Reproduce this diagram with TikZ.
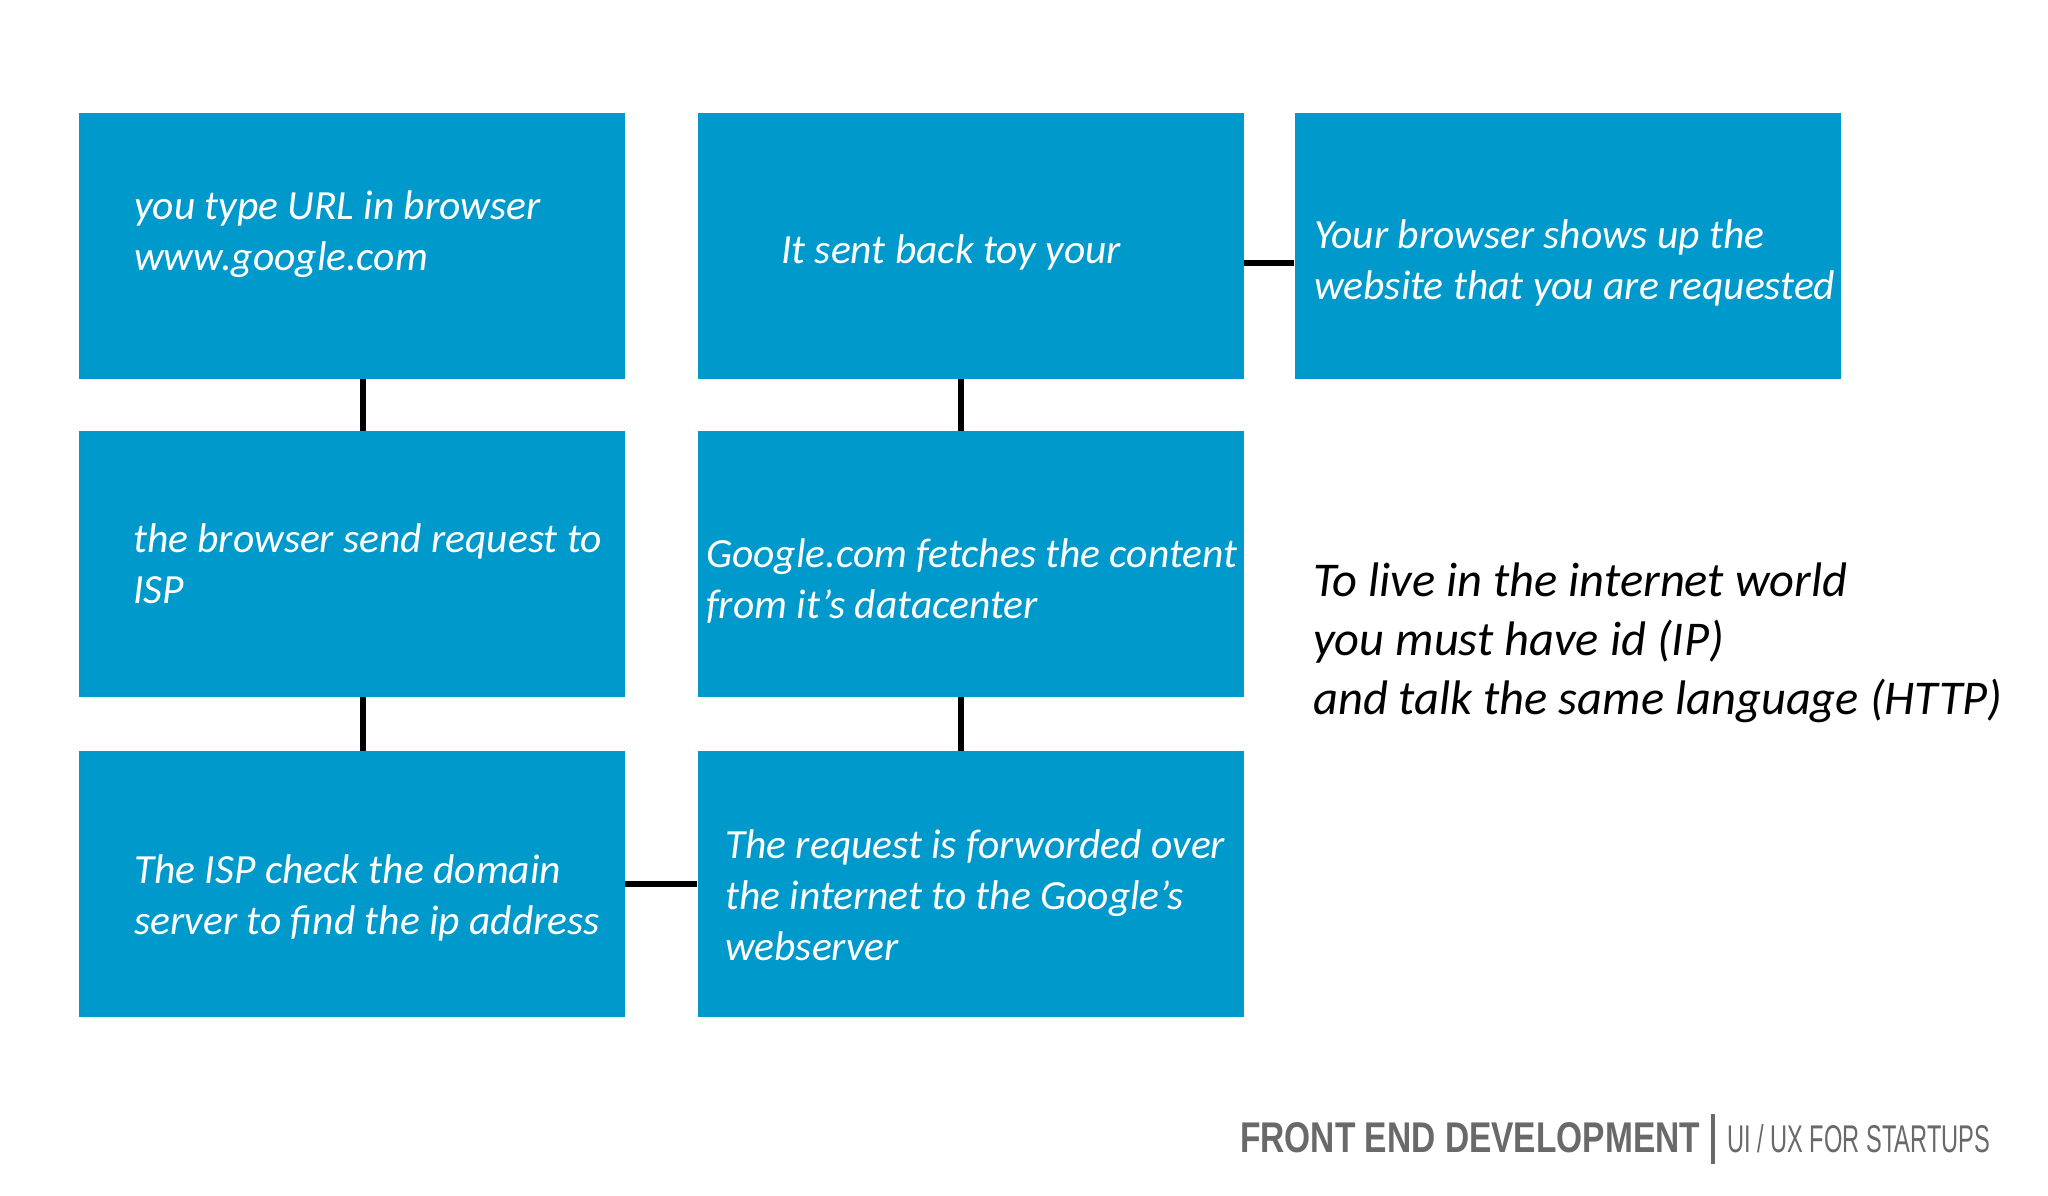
\documentclass[tikz,border=0pt]{standalone}
\usepackage{fontspec}
\setmainfont{Carlito}
\newfontfamily\tagfont{Liberation Sans}
\definecolor{boxblue}{RGB}{0,153,204}
\definecolor{taggray}{RGB}{105,105,105}

\begin{document}
\begin{tikzpicture}[x=1pt, y=-1pt,
    box/.style={fill=boxblue, minimum width=546pt, minimum height=266pt, inner sep=0pt},
    boxtext/.style={anchor=base west, align=left, inner sep=0pt, text=white,
      font=\fontsize{41.5}{51}\selectfont\itshape},
    link/.style={line width=6pt, black}]
  % Background
  \fill[white] (0,0) rectangle (2048,1195);

  % Draw the boxes
  \node[box] (url)   at (352,246) {};
  \node[box] (sent)  at (970.5,246) {};
  \node[box] (shows) at (1567.5,246) {};
  \node[box] (isp)   at (352,564) {};
  \node[box] (fetch) at (970.5,564) {};
  \node[box] (check) at (352,884) {};
  \node[box] (fwd)   at (970.5,884) {};

  % Texts in the boxes (placed at the baseline of their last line)
  \node[boxtext] (url-txt)   at (134,270)  {you type URL in browser\\www.google.com};
  \node[boxtext] (sent-txt)  at (781,263)  {It sent back toy your};
  \node[boxtext] (shows-txt) at (1314,299) {Your browser shows up the\\website that you are requested};
  \node[boxtext] (isp-txt)   at (133,603)  {the browser send request to\\ISP};
  \node[boxtext] (fetch-txt) at (706,618)  {Google.com fetches the content\\from it’s datacenter};
  \node[boxtext] (check-txt) at (134,934)  {The ISP check the domain\\server to find the ip address};
  \node[boxtext] (fwd-txt)   at (725,960)  {The request is forworded over\\the internet to the Google’s\\webserver};

  % Connect the boxes
  \draw[link] ([xshift=11pt]url.south) -- ([xshift=11pt]isp.north);
  \draw[link] ([xshift=11pt]isp.south) -- ([xshift=11pt]check.north);
  \draw[link] (check.east) -- (fwd.west);
  \draw[link] ([xshift=-9.5pt]fwd.north) -- ([xshift=-9.5pt]fetch.south);
  \draw[link] ([xshift=-9.5pt]fetch.north) -- ([xshift=-9.5pt]sent.south);
  \draw[link] ([yshift=-17pt]sent.east) -- ([yshift=-17pt]shows.west);

  % Side note
  \node[anchor=base west, align=left, inner sep=0pt,
    font=\fontsize{48.5}{59}\selectfont\itshape] (note) at (1313,714)
    {To live in the internet world\\you must have id (IP)\\and talk the same language (HTTP)};

  % Footer
  \node[anchor=base west, inner sep=0pt, text=taggray] (tag-left) at (1240,1152)
    {\resizebox{460pt}{30pt}{\tagfont\bfseries FRONT END DEVELOPMENT}};
  \draw[taggray, line width=3.5pt] (1713,1114) -- (1713,1164);
  \node[anchor=base west, inner sep=0pt, text=taggray] (tag-right) at (1727,1152)
    {\resizebox{263pt}{28pt}{\tagfont UI / UX FOR STARTUPS}};
\end{tikzpicture}
\end{document}
